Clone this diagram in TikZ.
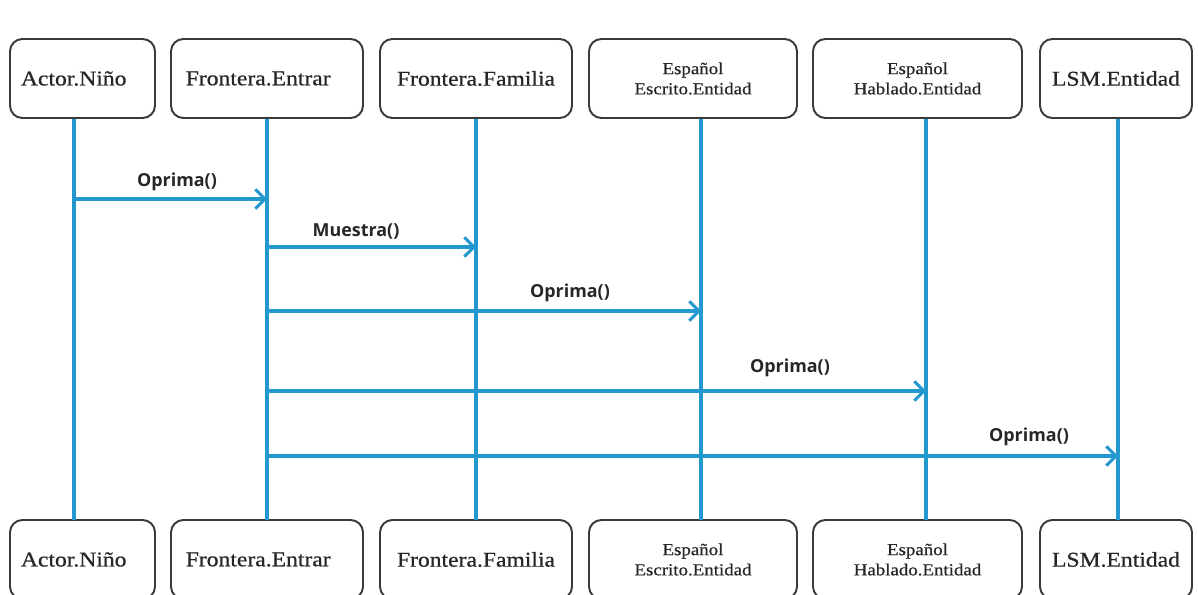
\documentclass[tikz,border=0pt]{standalone}
\usepackage{fontspec}
\setmainfont{Liberation Serif}[FakeStretch=1.12, FakeBold=0.6]
\newfontfamily\lblfont{Open Sans}
\usetikzlibrary{arrows.meta}
\definecolor{lifeblue}{HTML}{2298CF}
\definecolor{boxgray}{HTML}{3A3A3A}
\tikzset{
  obj/.style={draw=boxgray, line width=1.1pt, rounded corners=7pt, fill=white,
    minimum height=1.58cm, inner sep=0pt, align=center, text=black!85, font=\fontsize{12}{13}\selectfont},
  objtwo/.style={obj, font=\fontsize{9.6}{11.5}\selectfont},
  life/.style={draw=lifeblue, line width=1.9pt},
  msg/.style={draw=lifeblue, line width=1.9pt, -{Straight Barb[length=5.5pt, width=11pt, line width=1.7pt]}},
  msglbl/.style={font=\lblfont\bfseries\fontsize{10.2}{11}\selectfont, text=black!85, inner sep=0pt}
}
\begin{document}
\begin{tikzpicture}[x=0.02cm, y=-0.02cm]
\useasboundingbox (0,0) rectangle (1198,595);
% top objects
\node[obj, minimum width=2.9cm]  (t1) at (82.5,78.5) {\raisebox{-1.5pt}{Actor.Niño}\hspace{10pt}};
\node[obj, minimum width=3.84cm] (t2) at (267,78.5) {\raisebox{-1.5pt}{Frontera.Entrar}\hspace{10pt}};
\node[obj, minimum width=3.84cm] (t3) at (476,78.5) {\raisebox{-1.5pt}{Frontera.Familia}};
\node[objtwo, minimum width=4.16cm] (t4) at (693,78.5) {Español\\Escrito.Entidad};
\node[objtwo, minimum width=4.18cm] (t5) at (917.5,78.5) {Español\\Hablado.Entidad};
\node[obj, minimum width=3.04cm] (t6) at (1116,78.5) {\raisebox{-1.5pt}{LSM.Entidad}};
% bottom objects
\node[obj, minimum width=2.9cm]  (b1) at (82.5,559.5) {\raisebox{-1.5pt}{Actor.Niño}\hspace{10pt}};
\node[obj, minimum width=3.84cm] (b2) at (267,559.5) {\raisebox{-1.5pt}{Frontera.Entrar}\hspace{10pt}};
\node[obj, minimum width=3.84cm] (b3) at (476,559.5) {\raisebox{-1.5pt}{Frontera.Familia}};
\node[objtwo, minimum width=4.16cm] (b4) at (693,559.5) {Español\\Escrito.Entidad};
\node[objtwo, minimum width=4.18cm] (b5) at (917.5,559.5) {Español\\Hablado.Entidad};
\node[obj, minimum width=3.04cm] (b6) at (1116,559.5) {\raisebox{-1.5pt}{LSM.Entidad}};
% lifeline ends
\foreach \i/\x in {1/74,2/267,3/476,4/701,5/926,6/1118}{
  \coordinate (lt\i) at (\x,118.5);
  \coordinate (lb\i) at (\x,519.5);
  \draw[life] (lt\i) -- (lb\i);
}
% message points
\coordinate (m1s) at (74,199);  \coordinate (m1e) at (267,199);
\coordinate (m2s) at (267,247); \coordinate (m2e) at (476,247);
\coordinate (m3s) at (267,311); \coordinate (m3e) at (701,311);
\coordinate (m4s) at (267,391); \coordinate (m4e) at (926,391);
\coordinate (m5s) at (267,456); \coordinate (m5e) at (1118,456);
\draw[msg] (m1s) -- (m1e);
\draw[msg] (m2s) -- (m2e);
\draw[msg] (m3s) -- (m3e);
\draw[msg] (m4s) -- (m4e);
\draw[msg] (m5s) -- (m5e);
\node[msglbl] (l1) at (177,182) {Oprima()};
\node[msglbl] (l2) at (356,232) {Muestra()};
\node[msglbl] (l3) at (570,293) {Oprima()};
\node[msglbl] (l4) at (790,368) {Oprima()};
\node[msglbl] (l5) at (1029,437) {Oprima()};
\end{tikzpicture}
\end{document}
